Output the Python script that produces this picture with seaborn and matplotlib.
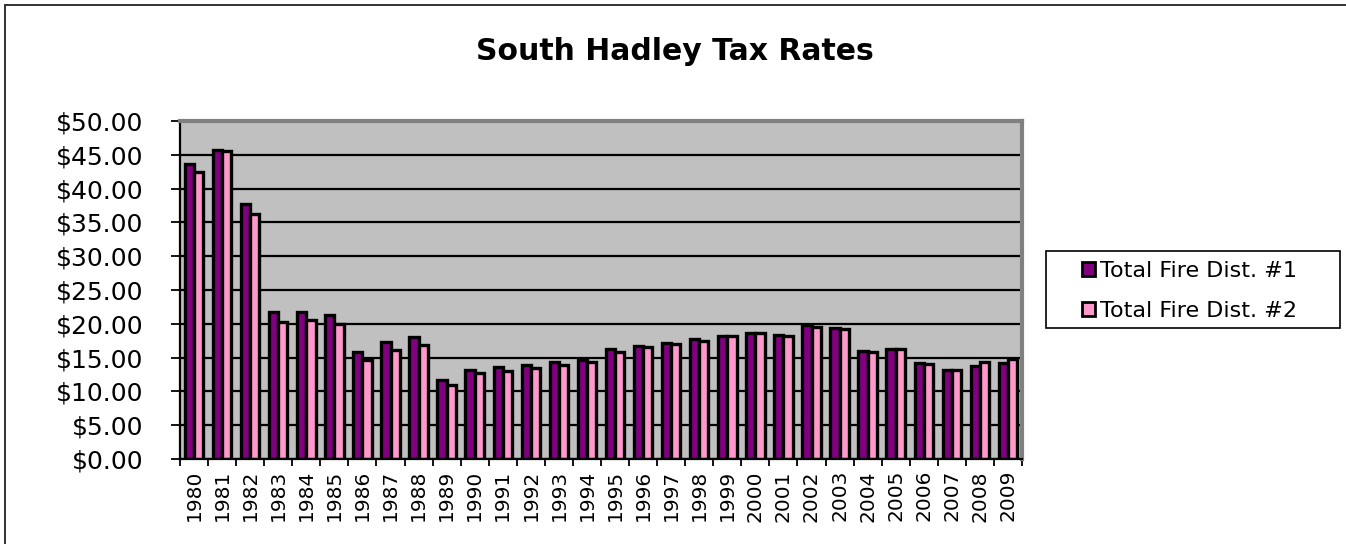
import matplotlib
matplotlib.use("Agg")
import matplotlib.pyplot as plt
from matplotlib.lines import Line2D
from matplotlib.patches import Patch, Rectangle
from matplotlib.ticker import FixedLocator, FuncFormatter
import numpy as np
import pandas as pd
import seaborn as sns

# Tax rates per $1,000 of assessed value, by fire district
years = [str(y) for y in range(1980, 2010)]
fire_dist_1 = [43.7, 45.7, 37.7, 21.7, 21.7, 21.3, 15.8, 17.3, 18.1, 11.7,
               13.2, 13.6, 13.9, 14.3, 14.6, 16.3, 16.7, 17.2, 17.8, 18.2,
               18.7, 18.3, 19.8, 19.4, 16.0, 16.3, 14.2, 13.2, 13.7, 14.2]
fire_dist_2 = [42.4, 45.5, 36.3, 20.3, 20.5, 20.0, 14.7, 16.1, 16.8, 10.9,
               12.7, 13.0, 13.5, 13.9, 14.4, 15.8, 16.5, 17.0, 17.5, 18.2,
               18.6, 18.2, 19.6, 19.2, 15.8, 16.3, 14.1, 13.2, 14.3, 14.8]
series_names = ["Total Fire Dist. #1", "Total Fire Dist. #2"]
series_colors = ["#800080", "#FF99CC"]
y_ticks = [0, 5, 10, 15, 20, 25, 30, 35, 40, 45, 50]
title = "South Hadley Tax Rates"

df = pd.DataFrame({
    "Year": years * 2,
    "Rate": fire_dist_1 + fire_dist_2,
    "District": [series_names[0]] * len(years) + [series_names[1]] * len(years),
})

sns.set_theme(style="white")
plt.rcParams["font.family"] = ["DejaVu Sans"]
plt.rcParams["text.color"] = "black"

W, H = 1346, 544
fig = plt.figure(figsize=(W / 100, H / 100), dpi=100)
fig.patch.set_facecolor("white")

# plot area in pixel terms
left, right, top, bottom = 180, 1022, 121, 459
ax = fig.add_axes([left / W, 1 - bottom / H, (right - left) / W, (bottom - top) / H])
ax.set_facecolor("#C0C0C0")

sns.barplot(data=df, x="Year", y="Rate", hue="District", order=years,
            hue_order=series_names, palette=series_colors, saturation=1,
            width=0.66, edgecolor="black", linewidth=2.4, ax=ax, legend=False)

ax.set_xlim(-0.5, len(years) - 0.5)
ax.set_ylim(0, 50)
ax.set_xlabel("")
ax.set_ylabel("")

# horizontal gridlines behind the bars
ax.set_axisbelow(True)
ax.yaxis.grid(True, color="black", linewidth=1.6)
ax.xaxis.grid(False)

ax.set_yticks(y_ticks)
ax.yaxis.set_major_formatter(FuncFormatter(lambda v, p: f"${v:.2f}"))
ax.tick_params(axis="y", which="major", direction="out", length=6.5, width=1.3,
               color="black", pad=20, labelsize=18, labelcolor="black", left=True)

ax.set_xticks(range(len(years)))
ax.set_xticklabels(years, rotation=90)
ax.tick_params(axis="x", which="major", length=0, pad=8, labelsize=14.5,
               labelcolor="black")
ax.xaxis.set_minor_locator(FixedLocator(np.arange(-0.5, len(years), 1.0)))
ax.tick_params(axis="x", which="minor", direction="out", length=5, width=1.3,
               color="black", bottom=True)

for side in ("left", "bottom"):
    ax.spines[side].set_color("black")
    ax.spines[side].set_linewidth(1.6)
    ax.spines[side].set_visible(True)
for side in ("top", "right"):
    ax.spines[side].set_color("#808080")
    ax.spines[side].set_linewidth(3)
    ax.spines[side].set_visible(True)

# title
fig.text(675 / W, 1 - 52 / H, title, ha="center", va="center",
         fontsize=21.5, fontweight="bold", color="black")

# legend box and entries
fig.add_artist(Rectangle((1046 / W, 1 - 328 / H), (1340 - 1046) / W, (328 - 251) / H,
                         transform=fig.transFigure, facecolor="white",
                         edgecolor="black", linewidth=1.2))
handles = [Patch(facecolor=c, edgecolor="black", linewidth=2.0) for c in series_colors]
fig.legend(handles, series_names, loc="center left",
           bbox_to_anchor=(1082 / W, 1 - 291 / H), frameon=False,
           fontsize=16, labelcolor="black", handlelength=0.6, handleheight=0.6,
           handletextpad=0.2, labelspacing=0.88, borderpad=0, borderaxespad=0)

# outer chart border (left and top edges)
fig.add_artist(Line2D([5 / W, 5 / W], [0, 1 - 5 / H], transform=fig.transFigure,
                      color="#222222", linewidth=1.3))
fig.add_artist(Line2D([5 / W, 1], [1 - 5 / H, 1 - 5 / H], transform=fig.transFigure,
                      color="#222222", linewidth=1.3))

fig.savefig("out.png", dpi=100, facecolor="white")
